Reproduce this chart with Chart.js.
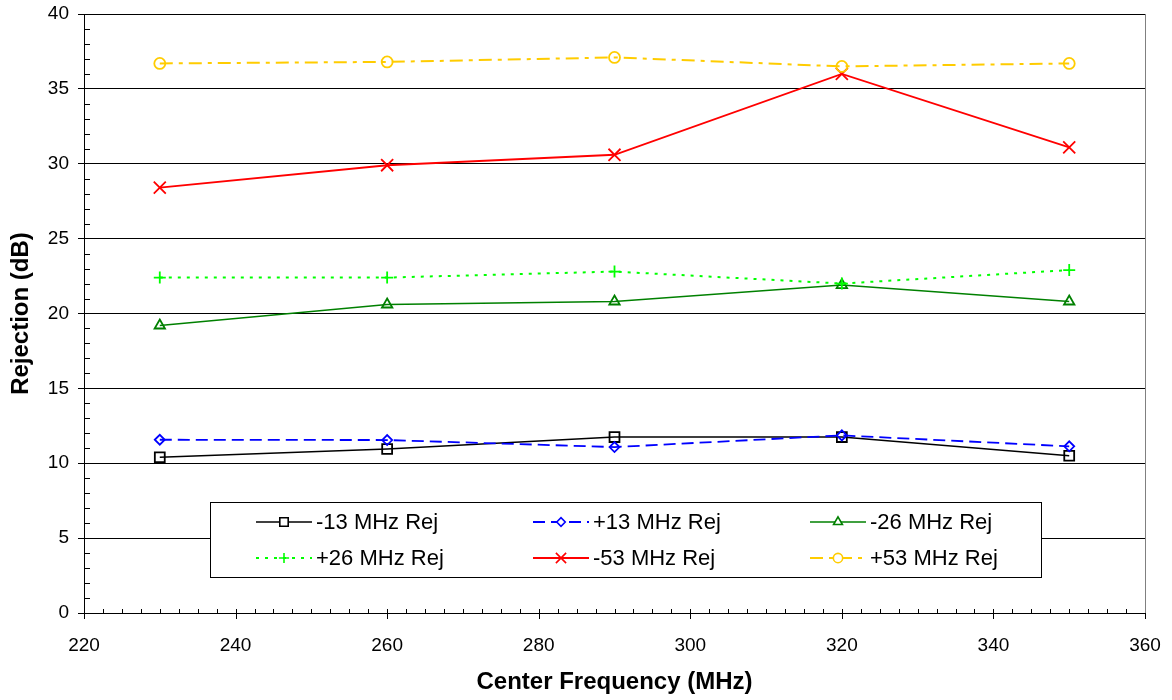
<!DOCTYPE html>
<html>
<head>
<meta charset="utf-8">
<script src="https://cdn.jsdelivr.net/npm/chart.js@4/dist/chart.umd.min.js"></script>
<style>
  html, body { margin: 0; padding: 0; background: #fff; }
  #wrap { width: 1172px; height: 700px; }
</style>
</head>
<body>
<div id="wrap"><canvas id="c" width="1172" height="700"></canvas></div>
<script>
// Center frequencies (MHz)
const freqs = [230, 260, 290, 320, 350];

// Rejection (dB) at each offset
const rejMinus13 = [10.4, 10.95, 11.75, 11.75, 10.5];
const rejPlus13  = [11.57, 11.55, 11.08, 11.86, 11.13];
const rejMinus26 = [19.2, 20.6, 20.8, 21.9, 20.8];
const rejPlus26  = [22.4, 22.4, 22.8, 22.0, 22.9];
const rejMinus53 = [28.4, 29.9, 30.6, 36.0, 31.1];
const rejPlus53  = [36.7, 36.8, 37.1, 36.5, 36.7];

const seriesNames = ['-13 MHz Rej', '+13 MHz Rej', '-26 MHz Rej', '+26 MHz Rej', '-53 MHz Rej', '+53 MHz Rej'];

const FONT = "'Liberation Sans', Arial, sans-serif";

function pts(ys) { return freqs.map((x, i) => ({ x: x, y: ys[i] })); }

const styles = [
  { color: '#000000', dash: [],            point: 'rect',     radius: 7,   width: 1.6 },
  { color: '#0000FF', dash: [12, 6],       point: 'rectRot',  radius: 5,   width: 1.8 },
  { color: '#008000', dash: [],            point: 'triangle', radius: 6,   width: 1.6 },
  { color: '#00FF00', dash: [3, 6],        point: 'cross',    radius: 6,   width: 2 },
  { color: '#FF0000', dash: [],            point: 'crossRot', radius: 8.5, width: 1.8 },
  { color: '#FFCC00', dash: [13, 6, 4, 6], point: 'circle',   radius: 5.5, width: 2 }
];
const seriesData = [rejMinus13, rejPlus13, rejMinus26, rejPlus26, rejMinus53, rejPlus53];

const datasets = seriesData.map((ys, i) => ({
  label: seriesNames[i],
  data: pts(ys),
  borderColor: styles[i].color,
  backgroundColor: '#FFFFFF',
  borderWidth: styles[i].width,
  borderDash: styles[i].dash,
  pointStyle: styles[i].point,
  pointRadius: styles[i].radius,
  pointBorderWidth: 1.8,
  pointBorderColor: styles[i].color,
  pointBackgroundColor: 'rgba(255,255,255,0)',
  tension: 0,
  fill: false,
  order: seriesData.length - i
}));

// Minor ticks, crossing major x ticks, right frame edge
const axisDecor = {
  id: 'axisDecor',
  afterDraw(chart) {
    const ctx = chart.ctx;
    const xs = chart.scales.x, ys = chart.scales.y;
    const area = chart.chartArea;
    ctx.save();
    ctx.strokeStyle = '#000';
    ctx.lineWidth = 1;
    ctx.beginPath();
    for (let v = 0; v <= 40; v += 1) {
      if (v % 5 === 0) continue;
      const py = Math.round(ys.getPixelForValue(v)) + 0.5;
      ctx.moveTo(area.left, py);
      ctx.lineTo(area.left + 6, py);
    }
    for (let v = 220; v <= 360; v += 2.5) {
      const px = Math.round(xs.getPixelForValue(v)) + 0.5;
      const major = v % 20 === 0;
      ctx.moveTo(px, area.bottom - 4);
      ctx.lineTo(px, area.bottom + (major ? 6 : 0));
    }
    ctx.stroke();
    ctx.strokeStyle = '#808080';
    ctx.beginPath();
    const rx = Math.round(area.right) + 0.5;
    ctx.moveTo(rx, area.top);
    ctx.lineTo(rx, area.bottom);
    ctx.stroke();
    ctx.restore();
  }
};

// Boxed legend inside the plot
const boxLegend = {
  id: 'boxLegend',
  afterDraw(chart) {
    const ctx = chart.ctx;
    const box = { x: 210.5, y: 502.5, w: 831, h: 75 };
    ctx.save();
    ctx.fillStyle = '#fff';
    ctx.fillRect(box.x, box.y, box.w, box.h);
    ctx.strokeStyle = '#000';
    ctx.lineWidth = 1;
    ctx.strokeRect(box.x, box.y, box.w, box.h);
    const colX = [256, 533, 810];
    const rowY = [522, 558];
    chart.data.datasets.forEach((ds, i) => {
      const cx = colX[i % 3], cy = rowY[Math.floor(i / 3)];
      const len = 56;
      ctx.save();
      ctx.strokeStyle = ds.borderColor;
      ctx.lineWidth = ds.borderWidth;
      ctx.setLineDash(ds.borderDash);
      ctx.beginPath();
      ctx.moveTo(cx, cy);
      ctx.lineTo(cx + len, cy);
      ctx.stroke();
      ctx.setLineDash([]);
      ctx.fillStyle = '#fff';
      ctx.lineWidth = 1.6;
      Chart.helpers.drawPoint(ctx, {
        pointStyle: ds.pointStyle,
        radius: ds.pointRadius * 0.85,
        rotation: 0,
        borderWidth: 1.6
      }, cx + len / 2, cy);
      ctx.restore();
      ctx.fillStyle = '#000';
      ctx.font = '22px ' + FONT;
      ctx.textBaseline = 'middle';
      ctx.textAlign = 'left';
      ctx.fillText(ds.label, cx + len + 4, cy + 1);
    });
    ctx.restore();
  }
};

new Chart(document.getElementById('c'), {
  type: 'line',
  data: { datasets: datasets },
  plugins: [axisDecor, boxLegend],
  options: {
    responsive: false,
    animation: false,
    events: [],
    layout: { padding: { top: 14, right: 27, left: 0, bottom: 0 } },
    plugins: { legend: { display: false }, tooltip: { enabled: false } },
    scales: {
      x: {
        type: 'linear',
        min: 220, max: 360,
        afterFit(s) { s.height = 87; s.paddingLeft = 0; s.paddingRight = 0; },
        ticks: { stepSize: 20, color: '#000', padding: 13, font: { family: FONT, size: 19 } },
        grid: { display: false },
        border: { display: true, color: '#000', width: 1 },
        title: {
          display: true, text: 'Center Frequency (MHz)', color: '#000',
          font: { family: FONT, size: 24, weight: 'bold' },
          padding: { top: 0, bottom: 3 }
        }
      },
      y: {
        type: 'linear',
        min: 0, max: 40,
        afterFit(s) { s.width = 84; s.paddingTop = 0; s.paddingBottom = 0; },
        ticks: { stepSize: 5, color: '#000', padding: 9, font: { family: FONT, size: 19 } },
        grid: { color: '#000', lineWidth: 1, tickLength: 6, drawTicks: true },
        border: { display: true, color: '#000', width: 1 },
        title: {
          display: true, text: 'Rejection (dB)', color: '#000',
          font: { family: FONT, size: 24, weight: 'bold' },
          padding: { top: 7, bottom: 0 }
        }
      }
    }
  }
});
</script>
</body>
</html>
